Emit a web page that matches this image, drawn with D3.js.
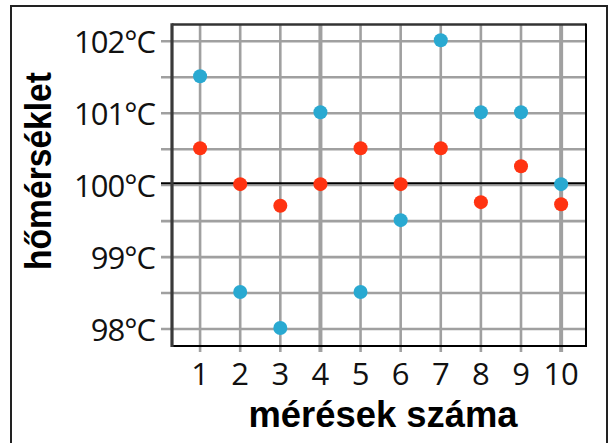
<!DOCTYPE html>
<html><head><meta charset="utf-8">
<script src="https://cdn.jsdelivr.net/npm/d3@7"></script>
<style>html,body{margin:0;padding:0;background:#fff;}svg{display:block;}</style>
</head><body>
<script>
const measurements = [1,2,3,4,5,6,7,8,9,10];
const blueValues = [101.5, 98.5, 98, 101, 98.5, 99.5, 102, 101, 101, 100];
const redValues  = [100.5, 100, 99.7, 100, 100.5, 100, 100.5, 99.75, 100.25, 99.72];
const yTicks = [98, 99, 100, 101, 102];
const yGrid = [98, 98.5, 99, 99.5, 100, 100.5, 101, 101.5, 102];
const yTickLabels = ["98°C","99°C","100°C","101°C","102°C"];
const xTickLabels = ["1","2","3","4","5","6","7","8","9","10"];
const thickX = [4, 10];
const xTitle = "mérések száma";
const yTitle = "hőmérséklet";

const W = 611, H = 443;
const svg = d3.select("body").append("svg").attr("width", W).attr("height", H);

const x = d3.scaleLinear().domain([0.3, 10.62]).range([172, 586]);
const y = d3.scaleLinear().domain([97.75, 102.22]).range([346, 24.5]);

// outer frame
svg.append("rect").attr("x", 11).attr("y", 6).attr("width", 596).attr("height", 450)
  .attr("fill", "none").attr("stroke", "#222").attr("stroke-width", 2);

const [x0, x1] = x.range();
const [y0, y1] = y.range();

// horizontal grid
svg.append("g").selectAll("line").data(yGrid).join("line")
  .attr("x1", x0 - 11).attr("x2", x1)
  .attr("y1", d => y(d) + 1).attr("y2", d => y(d) + 1)
  .attr("stroke", "#a0a0a0").attr("stroke-width", d => d === 100 ? 2 : 2.6);

// vertical grid
svg.append("g").selectAll("line").data(measurements).join("line")
  .attr("x1", d => x(d)).attr("x2", d => x(d))
  .attr("y1", y1).attr("y2", y0 + 6)
  .attr("stroke", "#a0a0a0").attr("stroke-width", d => thickX.includes(d) ? 4 : 2.6);

// 100 reference line
svg.append("line").attr("x1", x0 - 11).attr("x2", x1)
  .attr("y1", y(100) - 1).attr("y2", y(100) - 1)
  .attr("stroke", "#000").attr("stroke-width", 2);

// borders
svg.append("line").attr("x1", x0).attr("x2", x1).attr("y1", y1).attr("y2", y1)
  .attr("stroke", "#333").attr("stroke-width", 2.6);
svg.append("line").attr("x1", x1).attr("x2", x1).attr("y1", y1 - 1).attr("y2", y0 + 1)
  .attr("stroke", "#000").attr("stroke-width", 2);
svg.append("line").attr("x1", x0).attr("x2", x1 + 1).attr("y1", y0).attr("y2", y0)
  .attr("stroke", "#000").attr("stroke-width", 2);
svg.append("line").attr("x1", x0).attr("x2", x0).attr("y1", y1 - 1.3).attr("y2", y0 + 1)
  .attr("stroke", "#3a3a3a").attr("stroke-width", 3.2);

// points
svg.append("g").selectAll("circle").data(measurements).join("circle")
  .attr("cx", d => x(d)).attr("cy", (d, i) => y(redValues[i])).attr("r", 7)
  .attr("fill", "#ff3311");
svg.append("g").selectAll("circle").data(measurements).join("circle")
  .attr("cx", d => x(d)).attr("cy", (d, i) => y(blueValues[i])).attr("r", 7)
  .attr("fill", "#29a9d1");

// y tick labels
svg.append("g").selectAll("text").data(yTicks).join("text")
  .attr("x", 155).attr("y", d => y(d) + 12.5)
  .attr("text-anchor", "end")
  .attr("font-family", "'Open Sans', sans-serif").attr("font-size", 31)
  .attr("letter-spacing", -1)
  .attr("fill", "#111")
  .text((d, i) => yTickLabels[i]);

// x tick labels
svg.append("g").selectAll("text").data(measurements).join("text")
  .attr("x", d => x(d)).attr("y", 385)
  .attr("text-anchor", "middle")
  .attr("font-family", "'Open Sans', sans-serif").attr("font-size", 31)
  .attr("fill", "#111")
  .text((d, i) => xTickLabels[i]);

// titles
svg.append("text").attr("x", 383).attr("y", 427)
  .attr("text-anchor", "middle")
  .attr("font-family", "'Liberation Sans', Arial, sans-serif").attr("font-weight", "bold")
  .attr("font-size", 37).attr("textLength", 269).attr("lengthAdjust", "spacingAndGlyphs")
  .attr("fill", "#000").text(xTitle);

svg.append("text").attr("transform", "translate(51,171) rotate(-90)")
  .attr("text-anchor", "middle")
  .attr("font-family", "'Liberation Sans', Arial, sans-serif").attr("font-weight", "bold")
  .attr("font-size", 36).attr("textLength", 198).attr("lengthAdjust", "spacingAndGlyphs")
  .attr("fill", "#000").text(yTitle);
</script>
</body></html>
